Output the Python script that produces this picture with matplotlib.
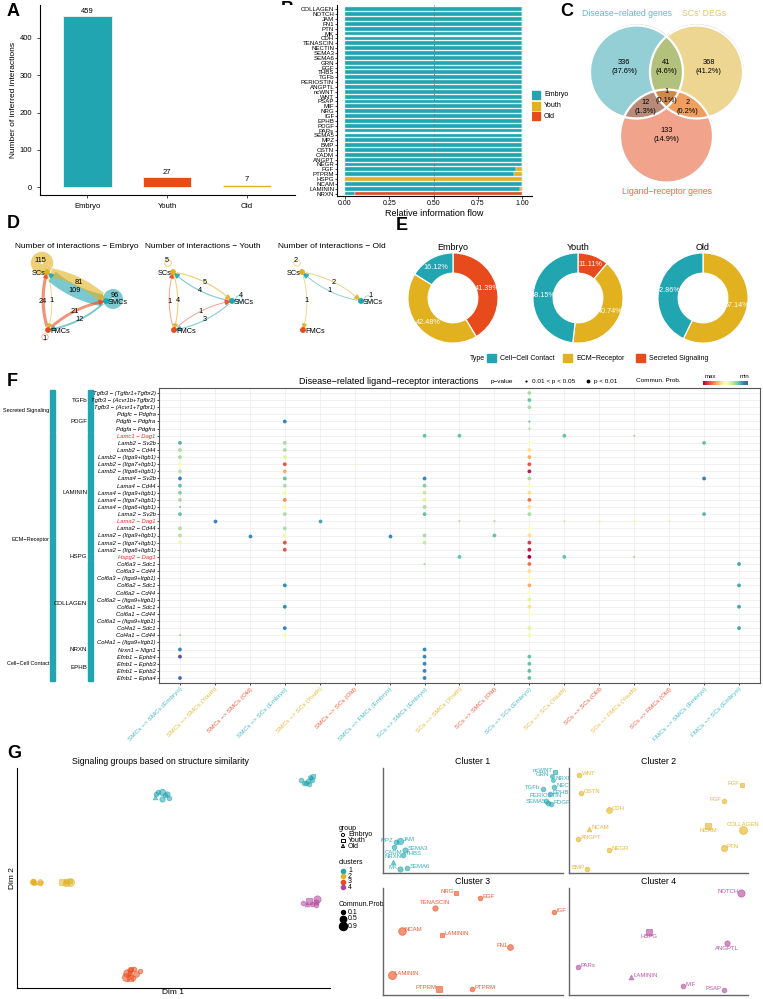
import numpy as np
import matplotlib.pyplot as plt
from matplotlib.patches import Rectangle, Circle, Polygon
from matplotlib.transforms import blended_transform_factory
from matplotlib.colors import to_rgba

plt.rcParams['font.family'] = ['Liberation Sans', 'DejaVu Sans']

TEAL = '#21a5b1'
YEL = '#e1b11f'
RED = '#e84b1b'
PURP = '#b2449d'

# ---------------- data ----------------
# A
groups = ['Embryo', 'Youth', 'Old']
n_inter = [459, 27, 7]
colA = [TEAL, RED, YEL]

# B  (top to bottom)
pathB = ['COLLAGEN', 'NOTCH', 'JAM', 'FN1', 'PTN', 'MK', 'CDH', 'TENASCIN', 'NECTIN', 'SEMA3',
         'SEMA6', 'GRN', 'EGF', 'THBS', 'TGFb', 'PERIOSTIN', 'ANGPTL', 'ncWNT', 'WNT', 'PSAP',
         'MIF', 'NRG', 'IGF', 'EPHB', 'PDGF', 'PARs', 'SEMA5', 'MPZ', 'BMP', 'OSTN',
         'CADM', 'ANGPT', 'NEGR', 'FGF', 'PTPRM', 'HSPG', 'NCAM', 'LAMININ', 'NRXN']
flow_embryo = [1] * 33 + [0.965, 0.955, 0.0, 1.0, 0.99, 0.055]
flow_youth = [0] * 33 + [0.035, 0.045, 1.0, 0.0, 0.01, 0.0]
flow_old = [0] * 33 + [0.0, 0.0, 0.0, 0.0, 0.0, 0.945]

# C  venn counts: (disease, SCs DEGs, ligand-receptor)
venn_names = ['Disease\u2212related genes', "SCs' DEGs", 'Ligand\u2212receptor genes']
venn_counts = {(1, 0, 0): 336, (0, 1, 0): 368, (0, 0, 1): 133, (1, 1, 0): 41,
               (1, 0, 1): 12, (0, 1, 1): 2, (1, 1, 1): 1}

# D  number of interactions
cells = ['SCs', 'SMCs', 'FMCs']
cell_col = {'SCs': YEL, 'SMCs': TEAL, 'FMCs': RED}
net_edges = {
    'Embryo': [('SMCs', 'SCs', 109), ('SCs', 'SMCs', 81), ('FMCs', 'SCs', 24), ('SCs', 'FMCs', 1),
               ('FMCs', 'SMCs', 21), ('SMCs', 'FMCs', 12),
               ('SCs', 'SCs', 115), ('SMCs', 'SMCs', 96), ('FMCs', 'FMCs', 1)],
    'Youth': [('SMCs', 'SCs', 4), ('SCs', 'SMCs', 5), ('FMCs', 'SCs', 1), ('SCs', 'FMCs', 4),
              ('FMCs', 'SMCs', 1), ('SMCs', 'FMCs', 3), ('SCs', 'SCs', 5), ('SMCs', 'SMCs', 4)],
    'Old': [('SMCs', 'SCs', 1), ('SCs', 'SMCs', 2), ('SCs', 'FMCs', 1),
            ('SCs', 'SCs', 2), ('SMCs', 'SMCs', 1)],
}

# E  percentage by type
types = ['Cell\u2212Cell Contact', 'ECM\u2212Receptor', 'Secreted Signaling']
type_col = [TEAL, YEL, RED]
pct_embryo = [16.12, 42.48, 41.39]
pct_youth = [48.15, 40.74, 11.11]
pct_old = [42.86, 57.14, 0.0]

# F
F_rows = ['Tgfb3 \u2212 (Tgfbr1+Tgfbr2)', 'Tgfb3 \u2212 (Acvr1b+Tgfbr2)', 'Tgfb3 \u2212 (Acvr1+Tgfbr1)',
          'Pdgfc \u2212 Pdgfra', 'Pdgfb \u2212 Pdgfra', 'Pdgfa \u2212 Pdgfra',
          'Lamc1 \u2212 Dag1', 'Lamb2 \u2212 Sv2b', 'Lamb2 \u2212 Cd44', 'Lamb2 \u2212 (Itga9+Itgb1)',
          'Lamb2 \u2212 (Itga7+Itgb1)', 'Lamb2 \u2212 (Itga6+Itgb1)', 'Lama4 \u2212 Sv2b', 'Lama4 \u2212 Cd44',
          'Lama4 \u2212 (Itga9+Itgb1)', 'Lama4 \u2212 (Itga7+Itgb1)', 'Lama4 \u2212 (Itga6+Itgb1)',
          'Lama2 \u2212 Sv2b', 'Lama2 \u2212 Dag1', 'Lama2 \u2212 Cd44', 'Lama2 \u2212 (Itga9+Itgb1)',
          'Lama2 \u2212 (Itga7+Itgb1)', 'Lama2 \u2212 (Itga6+Itgb1)', 'Hspg2 \u2212 Dag1',
          'Col6a3 \u2212 Sdc1', 'Col6a3 \u2212 Cd44', 'Col6a3 \u2212 (Itga9+Itgb1)', 'Col6a2 \u2212 Sdc1',
          'Col6a2 \u2212 Cd44', 'Col6a2 \u2212 (Itga9+Itgb1)', 'Col6a1 \u2212 Sdc1', 'Col6a1 \u2212 Cd44',
          'Col6a1 \u2212 (Itga9+Itgb1)', 'Col4a1 \u2212 Sdc1', 'Col4a1 \u2212 Cd44', 'Col4a1 \u2212 (Itga9+Itgb1)',
          'Nrxn1 \u2212 Nlgn1', 'Efnb1 \u2212 Ephb4', 'Efnb1 \u2212 Ephb3', 'Efnb1 \u2212 Ephb2', 'Efnb1 \u2212 Epha4']
F_red_rows = ['Lamc1 \u2212 Dag1', 'Lama2 \u2212 Dag1', 'Hspg2 \u2212 Dag1']
F_cols = ['SMCs \u2212> SMCs (Embryo)', 'SMCs \u2212> SMCs (Youth)', 'SMCs \u2212> SMCs (Old)',
          'SMCs \u2212> SCs (Embryo)', 'SMCs \u2212> SCs (Youth)', 'SMCs \u2212> SCs (Old)',
          'SMCs \u2212> FMCs (Embryo)', 'SCs \u2212> SMCs (Embryo)', 'SCs \u2212> SMCs (Youth)',
          'SCs \u2212> SMCs (Old)', 'SCs \u2212> SCs (Embryo)', 'SCs \u2212> SCs (Youth)',
          'SCs \u2212> SCs (Old)', 'SCs \u2212> FMCs (Youth)', 'SCs \u2212> FMCs (Old)',
          'FMCs \u2212> SMCs (Embryo)', 'FMCs \u2212> SCs (Embryo)']
F_groups = [('Secreted Signaling', 0, 5), ('ECM\u2212Receptor', 6, 35), ('Cell\u2212Cell Contact', 36, 40)]
F_paths = [('TGFb', 0, 2), ('PDGF', 3, 5), ('LAMININ', 6, 22), ('HSPG', 23, 23),
           ('COLLAGEN', 24, 35), ('NRXN', 36, 36), ('EPHB', 37, 40)]
# column -> [(row, prob (1 = max), significant p<0.01)]
F_dots = {
    0: [(7, .17, 1), (8, .3, 1), (9, .3, 1), (10, .45, 1), (11, .33, 1), (12, .08, 1), (13, .2, 1),
        (14, .25, 1), (15, .3, 1), (16, .25, 0), (17, .2, 1), (19, .3, 1), (20, .32, 1), (21, .45, 1),
        (34, .3, 0), (36, .1, 1), (37, 0.0, 1), (40, .05, 1)],
    1: [(18, .1, 1)],
    2: [(20, .1, 1)],
    3: [(4, .1, 1), (7, .3, 1), (8, .3, 1), (9, .4, 1), (10, .85, 1), (11, .7, 1), (12, .2, 1),
        (13, .3, 1), (14, .45, 1), (15, .75, 1), (16, .45, 1), (17, .3, 1), (19, .3, 1), (20, .45, 1),
        (21, .85, 1), (22, .85, 1), (27, .1, 1), (30, .1, 1), (33, .1, 1), (34, .45, 1)],
    4: [(18, .15, 1)],
    5: [(10, .45, 0)],
    6: [(20, .1, 1)],
    7: [(6, .2, 1), (12, .1, 1), (13, .25, 1), (14, .35, 1), (15, .4, 1), (16, .3, 1), (17, .2, 1),
        (20, .3, 1), (21, .35, 1), (24, .3, 0), (36, .1, 1), (37, .1, 1), (38, .1, 1), (39, .1, 1), (40, .1, 1)],
    8: [(6, .2, 1), (18, .3, 0), (23, .2, 1)],
    9: [(18, .3, 0), (20, .2, 1)],
    10: [(0, .3, 1), (1, .2, 1), (2, .3, 1), (4, .2, 0), (5, .3, 0), (7, .5, 1), (8, .6, 1), (9, .7, 1),
         (10, .85, 1), (11, .95, 1), (12, .3, 1), (13, .5, 1), (14, .6, 1), (15, .8, 1), (16, .6, 1),
         (17, .3, 1), (19, .5, 1), (20, .6, 1), (21, .9, 1), (22, .95, 1), (23, 1.0, 1), (24, .8, 1),
         (25, .6, 1), (26, .5, 1), (27, .7, 1), (28, .5, 1), (29, .4, 1), (30, .6, 1), (31, .5, 1),
         (33, .4, 1), (34, .45, 1), (37, .2, 1), (38, .2, 1), (39, .2, 1), (40, .2, 1)],
    11: [(6, .2, 1), (18, .35, 0), (23, .2, 1)],
    12: [(18, .4, 0)],
    13: [(6, .3, 0), (18, .45, 0), (23, .3, 0)],
    14: [(18, .4, 0)],
    15: [(7, .2, 1), (12, .08, 1), (17, .18, 1)],
    16: [(24, .15, 1), (27, .15, 1), (30, .15, 1), (33, .15, 1)],
}

# G
clus_col = [TEAL, YEL, RED, PURP]
mk_of = {'E': 'o', 'Y': 's', 'O': '^'}
cl_name = [
    ['ncWNT', 'GRN', 'NRXN', 'NECTIN', 'TGFb', 'EPHB', 'PERIOSTIN', 'SEMA5', 'PDGF',
     'JAM', 'MPZ', 'CADM', 'SEMA3', 'THBS', 'NRXN', 'MK', 'SEMA6'],
    ['WNT', 'FGF', 'OSTN', 'FGF', 'CDH', 'NCAM', 'NCAM', 'COLLAGEN', 'ANGPT', 'NEGR', 'PTN', 'BMP'],
    ['NRG', 'EGF', 'TENASCIN', 'IGF', 'NCAM', 'LAMININ', 'FN1', 'LAMININ', 'PTPRM', 'PTPRM'],
    ['NOTCH', 'HSPG', 'ANGPTL', 'PARs', 'LAMININ', 'MIF', 'PSAP'],
]
cl_grp = [
    ['Y', 'E', 'E', 'E', 'E', 'E', 'E', 'E', 'E', 'E', 'E', 'E', 'E', 'E', 'O', 'E', 'E'],
    ['E', 'Y', 'E', 'E', 'E', 'O', 'Y', 'E', 'E', 'E', 'E', 'E'],
    ['Y', 'E', 'E', 'E', 'E', 'Y', 'E', 'E', 'Y', 'E'],
    ['E', 'Y', 'E', 'E', 'O', 'E', 'E'],
]
cl_x = [
    [172, 169, 170, 171, 160, 167, 163, 165, 168, 17, 13, 11, 22, 20, 10, 17, 24],
    [10, 173, 12, 155, 40, 20, 139, 174, 9, 40, 155, 18],
    [73, 97, 52, 171, 19, 59, 127, 9, 56, 89],
    [172, 80, 158, 9, 62, 114, 155],
]
cl_y = [
    [101, 97, 93, 86, 84, 79, 72, 70, 69, 32, 31, 26, 23, 18, 11, 4, 5],
    [98, 88, 80, 72, 63, 44, 47, 43, 34, 23, 25, 4],
    [102, 97, 87, 83, 64, 60, 48, 20, 6, 6],
    [102, 63, 52, 28, 18, 9, 5],
]
cl_prob = [
    [.1, .1, .1, .2, .2, .2, .2, .2, .2, .5, .2, .2, .3, .2, .2, .3, .2],
    [.2, .2, .2, .2, .4, .2, .3, .9, .2, .2, .5, .2],
    [.2, .2, .3, .2, .8, .2, .4, .9, .3, .2],
    [.7, .3, .3, .2, .2, .2, .2],
]
# label side for each point: l = right of point, r = left of point, a = above, b = below
cl_side = [
    ['r', 'r', 'l', 'l', 'r', 'l', 'a', 'r', 'l', 'l', 'r', 'b', 'l', 'l', 'a', 'r', 'l'],
    ['l', 'r', 'l', 'r', 'l', 'l', 'b', 'a', 'l', 'l', 'l', 'r'],
    ['r', 'l', 'a', 'l', 'l', 'l', 'r', 'l', 'r', 'l'],
    ['r', 'b', 'b', 'l', 'l', 'l', 'r'],
]
# global embedding: (local center x, y) -> (global x, y, scale x, scale y)
glob_map = [(90, 50, 216, 200, 0.97, 0.23), (90, 50, 34, 106, 0.23, 0.03),
            (90, 50, 116, 14, 0.09, 0.1), (90, 50, 293, 86, 0.09, 0.06)]

# ---------------- figure ----------------
W, H = 763, 999
fig = plt.figure(figsize=(W / 100, H / 100), dpi=100)


def px_axes(x0, y0, x1, y1):
    return fig.add_axes([x0 / W, 1 - y1 / H, (x1 - x0) / W, (y1 - y0) / H])


ov = px_axes(0, 0, W, H)
ov.set_xlim(0, W)
ov.set_ylim(H, 0)
ov.axis('off')

for lab, x, y in [('A', 7, 12), ('B', 281, 10), ('C', 560, 12), ('D', 7, 223),
                  ('E', 396, 225), ('F', 7, 382), ('G', 7, 753)]:
    ov.text(x, y, lab, fontsize=13, fontweight='bold', va='center')

# ---- A
axA = px_axes(40, 5, 295, 195)
xa = np.arange(len(groups))
axA.bar(xa, n_inter, width=0.61, color=colA, edgecolor='#f3f3f3', linewidth=0.6)
for x, v in zip(xa, n_inter):
    axA.text(x, v + 3, str(v), ha='center', va='bottom', fontsize=5.5)
axA.set_xlim(-0.59, 2.6)
axA.set_ylim(-21, 488)
axA.set_xticks(xa, groups)
axA.set_yticks([0, 100, 200, 300, 400])
axA.tick_params(labelsize=5.5, length=2, width=0.5)
axA.set_ylabel('Number of inferred interactions', fontsize=6, labelpad=2)
for s in ['top', 'right']:
    axA.spines[s].set_visible(False)
for s in ['left', 'bottom']:
    axA.spines[s].set_linewidth(0.8)

# ---- B
axB = px_axes(337, 5, 532, 196)
yb = np.arange(len(pathB))[::-1]
emb = np.array(flow_embryo)
you = np.array(flow_youth)
old = np.array(flow_old)
kw = dict(height=0.78, edgecolor='#cfe9ec', linewidth=0.3)
axB.barh(yb, emb, color=TEAL, **kw)
axB.barh(yb, you, left=emb, color=YEL, **kw)
axB.barh(yb, old, left=emb + you, color=RED, **kw)
axB.axvline(0.5, ls='--', color='#777777', lw=0.6, dashes=(3, 3))
axB.set_yticks(yb, pathB)
axB.set_xticks([0, 0.25, 0.5, 0.75, 1.0], ['0.00', '0.25', '0.50', '0.75', '1.00'])
axB.set_xlim(-0.045, 1.056)
axB.set_ylim(-0.5, 38.9)
axB.tick_params(axis='y', labelsize=4.4, length=1.5, width=0.5, pad=0.5)
axB.tick_params(axis='x', labelsize=5, length=2, width=0.5, pad=1)
axB.set_xlabel('Relative information flow', fontsize=6.5, labelpad=1)
for s in ['top', 'right']:
    axB.spines[s].set_visible(False)
for s in ['left', 'bottom']:
    axB.spines[s].set_linewidth(0.8)
for i, (lab, c) in enumerate(zip(groups, [TEAL, YEL, RED])):
    ov.add_patch(Rectangle((531, 91 + i * 10.5), 9, 8, color=c))
    ov.text(544, 95 + i * 10.5, lab, fontsize=5, va='center')

# ---- C  venn
cen = [(636.5, 72), (696.5, 72), (666.5, 136)]
rad_c = 46.5
xs = np.arange(575, 760, 0.5)
ys = np.arange(15, 190, 0.5)
X, Y = np.meshgrid(xs, ys)
inside = [(X - cx) ** 2 + (Y - cy) ** 2 <= rad_c ** 2 for cx, cy in cen]
reg_col = {(1, 0, 0): '#93cfd5', (0, 1, 0): '#edd692', (0, 0, 1): '#f2a38b', (1, 1, 0): '#b3c27c',
           (1, 0, 1): '#b98b7a', (0, 1, 1): '#ee9e60', (1, 1, 1): '#d0894d'}
img = np.zeros(X.shape + (4,))
total = sum(venn_counts.values())
for key, c in reg_col.items():
    m = (inside[0] == key[0]) & (inside[1] == key[1]) & (inside[2] == key[2])
    img[m] = to_rgba(c)
    cx, cy = X[m].mean(), Y[m].mean()
    if key == (0, 0, 1):
        cy -= 10
    n = venn_counts[key]
    ov.text(cx, cy, '%d\n(%.1f%%)' % (n, 100 * n / total), ha='center', va='center',
            fontsize=5.3, linespacing=1.4, zorder=5)
ov.imshow(img, extent=(xs[0], xs[-1], ys[-1], ys[0]), aspect='auto', interpolation='bilinear', zorder=1)
for cx, cy in cen:
    ov.add_patch(Circle((cx, cy), rad_c, fill=False, ec='white', lw=1.6, zorder=3))
ov.text(627, 13, venn_names[0], color='#5cbdc7', fontsize=6.3, ha='center', va='center')
ov.text(704, 13, venn_names[1], color='#e3c56f', fontsize=6.3, ha='center', va='center')
ov.text(667, 191, venn_names[2], color='#f06b4b', fontsize=6.3, ha='center', va='center')

# ---- D  networks
layout = {'SCs': (0, 0), 'SMCs': (59, 29), 'FMCs': (1, 58)}
loop_off = {'SCs': (-5, -9), 'SMCs': (7, -2), 'FMCs': (-3, 7)}
d_origin = {'Embryo': (47, 272), 'Youth': (173, 272), 'Old': (302, 272)}
maxw = max(n for e in net_edges.values() for _, _, n in e)


def bez(p0, p1, rad, t):
    p0 = np.array(p0, float)
    p1 = np.array(p1, float)
    d = p1 - p0
    ctrl = (p0 + p1) / 2 + rad * np.array([d[1], -d[0]])
    t = np.asarray(t)[:, None]
    return (1 - t) ** 2 * p0 + 2 * (1 - t) * t * ctrl + t ** 2 * p1


for g, edges in net_edges.items():
    ox, oy = d_origin[g]
    pos = {c: (ox + layout[c][0], oy + layout[c][1]) for c in cells}
    ov.text(ox + 30, 247, 'Number of interactions \u2212 ' + g, fontsize=6, ha='center', va='center')
    for s, t, n in edges:
        lw = 0.5 + 8.5 * n / maxw
        col = cell_col[s]
        if s == t:
            cx = pos[s][0] + loop_off[s][0]
            cy = pos[s][1] + loop_off[s][1]
            r = 3.2 + 3 * n / maxw
            ov.add_patch(Circle((cx, cy), r, fill=False, ec=col, lw=lw * 0.8, alpha=0.6, zorder=3))
            lx = cx + loop_off[s][0] * 0.3
            ly = cy + loop_off[s][1] * 0.25 - (3 if s == 'SMCs' else 0)
            ov.text(lx, ly, str(n), fontsize=5.3, ha='center', va='center', zorder=6)
            continue
        pts = bez(pos[s], pos[t], 0.15, np.linspace(0.06, 0.9, 40))
        ov.plot(pts[:, 0], pts[:, 1], color=col, lw=lw, alpha=0.6, solid_capstyle='butt', zorder=3)
        tip = bez(pos[s], pos[t], 0.15, [0.97])[0]
        base = pts[-1]
        dv = tip - base
        nv = np.array([-dv[1], dv[0]])
        ov.add_patch(Polygon([tip, base + nv * 0.45, base - nv * 0.45], color=col, alpha=0.85, zorder=4))
        m = bez(pos[s], pos[t], 0.15, [0.5])[0]
        ov.text(m[0], m[1], str(n), fontsize=5.3, ha='center', va='center', zorder=6)
    for c in cells:
        ov.add_patch(Circle(pos[c], 2.2, color=cell_col[c], zorder=5))
        ov.text(pos[c][0] + (-1 if c == 'SCs' else 2), pos[c][1] + 1.5, c, fontsize=5.3,
                ha='right' if c == 'SCs' else 'left', va='center', zorder=6)

# ---- E  donuts
for (g, pct, cxp) in [('Embryo', pct_embryo, 453), ('Youth', pct_youth, 578), ('Old', pct_old, 703)]:
    axp = px_axes(cxp - 46, 252, cxp + 46, 344)
    vals = [pct[2], pct[1], pct[0]]
    cols = [type_col[2], type_col[1], type_col[0]]
    keep = [i for i, v in enumerate(vals) if v > 0]
    axp.pie([vals[i] for i in keep], colors=[cols[i] for i in keep], startangle=90,
            counterclock=False, radius=1, autopct='%.2f%%', pctdistance=0.78,
            textprops=dict(color='white', fontsize=5.2),
            wedgeprops=dict(width=0.45, edgecolor='white', linewidth=0.9))
    axp.set_xlim(-1.02, 1.02)
    axp.set_ylim(-1.02, 1.02)
    ov.text(cxp, 247, g, fontsize=6.5, ha='center', va='center')
ov.text(470, 358, 'Type', fontsize=5, va='center')
for i, (lab, c, x) in enumerate(zip(types, type_col, [487, 563, 636])):
    ov.add_patch(Rectangle((x, 354), 9, 8, color=c))
    ov.text(x + 13, 358, lab, fontsize=5, va='center')

# ---- F
axF = px_axes(159, 388, 760, 683)
cmap = plt.get_cmap('Spectral')
for ci, lst in F_dots.items():
    rows = [r for r, p, s in lst]
    probs = np.array([p for r, p, s in lst])
    sizes = [7.5 if s else 2.5 for r, p, s in lst]
    axF.scatter([ci] * len(rows), rows, s=sizes, c=cmap(1 - probs), linewidths=0, zorder=3)
axF.set_xlim(-0.6, 16.6)
axF.set_ylim(40.7, -0.7)
axF.set_yticks(range(len(F_rows)), F_rows, fontsize=4.2, style='italic')
for tl in axF.get_yticklabels():
    if tl.get_text() in F_red_rows:
        tl.set_color('#ee2a24')
axF.set_xticks(range(len(F_cols)), F_cols, rotation=45, ha='right', va='top',
               rotation_mode='anchor', fontsize=4.6)
grp_col = {'Embryo': '#47b9c5', 'Youth': '#e8b83a', 'Old': '#ef5b3c'}
for tl in axF.get_xticklabels():
    tl.set_color(grp_col[tl.get_text().split('(')[1].rstrip(')')])
axF.tick_params(length=1.5, width=0.5, pad=1)
axF.grid(color='#ececec', lw=0.5)
axF.set_axisbelow(True)
for s in axF.spines.values():
    s.set_color('#555555')
    s.set_linewidth(0.8)
axF.set_title('Disease\u2212related ligand\u2212receptor interactions', fontsize=6.5, pad=3, x=0.383)
tr = blended_transform_factory(ov.transData, axF.transData)
for (lab, r0, r1) in F_groups:
    ov.add_patch(Rectangle((50, r0 - 0.45), 5, r1 - r0 + 0.9, color=TEAL, transform=tr, clip_on=False))
    ov.text(49.5, (r0 + r1) / 2, lab, fontsize=4.0, ha='right', va='center', transform=tr)
for (lab, r0, r1) in F_paths:
    ov.add_patch(Rectangle((88, r0 - 0.45), 5, r1 - r0 + 0.9, color=TEAL, transform=tr, clip_on=False))
    ov.text(87.5, (r0 + r1) / 2, lab, fontsize=4.4, ha='right', va='center', transform=tr)
ov.text(491, 381, 'p\u2212value', fontsize=4.6, va='center')
ov.scatter([526], [381], s=2.5, c='k', linewidths=0)
ov.text(532, 381, '0.01 < p < 0.05', fontsize=4.6, va='center')
ov.scatter([588], [381], s=7.5, c='k', linewidths=0)
ov.text(594, 381, 'p < 0.01', fontsize=4.6, va='center')
ov.text(636, 381, 'Commun. Prob.', fontsize=4.6, va='center')
ov.text(705, 377, 'max', fontsize=4.3, va='center')
ov.text(740, 377, 'min', fontsize=4.3, va='center')
axcb = px_axes(703, 381, 748, 385)
axcb.imshow(np.linspace(0, 1, 128)[None, :], cmap='Spectral', aspect='auto')
axcb.axis('off')

# ---- G left
axG = px_axes(17, 768, 330, 988)
for k in range(4):
    lcx, lcy, gx, gy, sx, sy = glob_map[k]
    for nm, gp, x, y, p in zip(cl_name[k], cl_grp[k], cl_x[k], cl_y[k], cl_prob[k]):
        axG.scatter(gx + (x - lcx) * sx, gy + (y - lcy) * sy, s=5 + 32 * p, marker=mk_of[gp],
                    facecolor=clus_col[k], edgecolor=clus_col[k], alpha=0.55, linewidths=0.6)
axG.set_xlim(0, 313)
axG.set_ylim(0, 220)
axG.set_xticks([])
axG.set_yticks([])
for s in ['top', 'right']:
    axG.spines[s].set_visible(False)
axG.set_xlabel('Dim 1', fontsize=6, labelpad=1)
axG.set_ylabel('Dim 2', fontsize=6, labelpad=1)
ov.text(160, 761, 'Signaling groups based on structure similarity', fontsize=6.3, ha='center', va='center')
ov.text(339, 828, 'group', fontsize=5, va='center')
for i, (lab, m) in enumerate(zip(groups, ['o', 's', '^'])):
    ov.scatter([343], [835 + i * 5.5], s=5, marker=m, facecolor='none', edgecolor='k', linewidths=0.7)
    ov.text(348, 835 + i * 5.5, lab, fontsize=5, va='center')
ov.text(339, 863, 'clusters', fontsize=5, va='center')
for i in range(4):
    ov.scatter([343], [871 + i * 5.4], s=9, c=clus_col[i])
    ov.text(348, 871 + i * 5.4, str(i + 1), fontsize=5, va='center')
ov.text(339, 905, 'Commun.Prob.', fontsize=5, va='center')
for i, (p, yy) in enumerate(zip([0.1, 0.5, 0.9], [912, 918.5, 926])):
    ov.scatter([343], [yy], s=5 + 32 * p, c='k')
    ov.text(348, yy, str(p), fontsize=5, va='center')

# ---- G clusters
boxes = [(383, 768, 563, 873), (569, 768, 748, 873), (383, 888, 563, 995), (569, 888, 748, 995)]
side_kw = {'l': dict(dx=2.5, dy=1.5, ha='left', va='center'),
           'r': dict(dx=-2.5, dy=1.5, ha='right', va='center'),
           'a': dict(dx=0, dy=3, ha='center', va='bottom'),
           'b': dict(dx=0, dy=-2.5, ha='center', va='top')}
for k in range(4):
    ax = px_axes(*boxes[k])
    for nm, gp, x, y, p, sd in zip(cl_name[k], cl_grp[k], cl_x[k], cl_y[k], cl_prob[k], cl_side[k]):
        ax.scatter(x, y, s=5 + 32 * p, marker=mk_of[gp], facecolor=clus_col[k],
                   edgecolor=clus_col[k], alpha=0.6, linewidths=0.6, zorder=3, clip_on=False)
        o = side_kw[sd]
        ax.text(x + o['dx'], y + o['dy'], nm, fontsize=4.3, color=clus_col[k], ha=o['ha'],
                va=o['va'], alpha=0.9, zorder=4)
    ax.set_xlim(0, boxes[k][2] - boxes[k][0])
    ax.set_ylim(0, boxes[k][3] - boxes[k][1])
    ax.set_xticks([])
    ax.set_yticks([])
    for s in ['top', 'right']:
        ax.spines[s].set_visible(False)
    for s in ['left', 'bottom']:
        ax.spines[s].set_color('#666666')
        ax.spines[s].set_linewidth(1.0)
    ax.set_title('Cluster %d' % (k + 1), fontsize=6.3, pad=3)

ov.set_xlim(0, W)
ov.set_ylim(H, 0)
fig.savefig('out.png', dpi=100)
